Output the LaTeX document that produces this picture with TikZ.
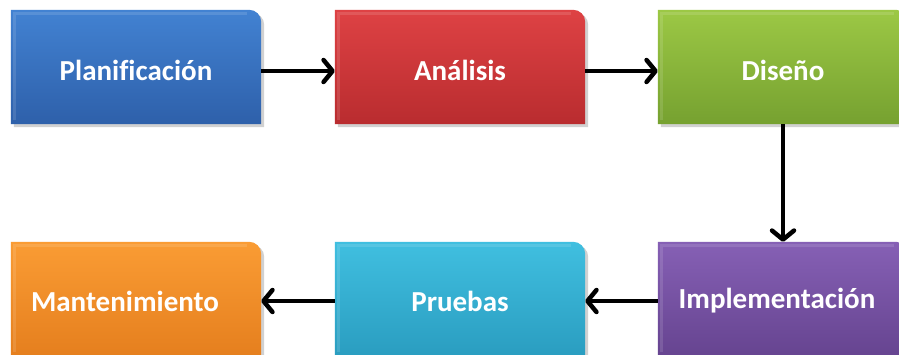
\documentclass[tikz,border=0pt]{standalone}
\usepackage{fontspec}
\setmainfont[Ligatures=NoCommon]{Carlito}
\usetikzlibrary{arrows.meta}
\tikzset{
  stage/.style={minimum width=250pt, minimum height=114pt, inner sep=0pt,
    font=\fontsize{29}{34}\selectfont\bfseries, text=white},
  flow/.style={line width=4.5pt, -{Straight Barb[length=9pt,width=22pt,line cap=round,line join=round]}}
}
\definecolor{blueT}{HTML}{4282D2}\definecolor{blueB}{HTML}{2E60AA}
\definecolor{redT}{HTML}{DE4244}\definecolor{redB}{HTML}{B92C2F}
\definecolor{greenT}{HTML}{9CC845}\definecolor{greenB}{HTML}{76A130}
\definecolor{purpleT}{HTML}{8660B5}\definecolor{purpleB}{HTML}{664490}
\definecolor{cyanT}{HTML}{40BFE0}\definecolor{cyanB}{HTML}{2A9DC0}
\definecolor{orangeT}{HTML}{FA9C34}\definecolor{orangeB}{HTML}{E57F1E}
% box with only the top-right corner rounded
\newcommand{\stagebox}[3]{%
  \fill[black,opacity=0.18] ([shift={(3pt,-3pt)}]#1.south west) -- ([shift={(3pt,-3pt)}]#1.north west)
    -- ([shift={(-9pt,-3pt)}]#1.north east) arc[start angle=90,end angle=0,radius=12pt]
    -- ([shift={(3pt,-3pt)}]#1.south east) -- cycle;
  \shade[top color=#2, bottom color=#3] (#1.south west) -- (#1.north west)
    -- ([xshift=-12pt]#1.north east) arc[start angle=90,end angle=0,radius=12pt]
    -- (#1.south east) -- cycle;
  \draw[white,opacity=0.12,line width=3pt] ([shift={(4pt,4pt)}]#1.south west) -- ([shift={(4pt,-4pt)}]#1.north west)
    -- ([shift={(-14pt,-4pt)}]#1.north east);
}
\begin{document}
\begin{tikzpicture}[x=1pt,y=1pt]
\useasboundingbox (0,0) rectangle (899,-354);
\clip (0,0) rectangle (899,-354);
\fill[white] (0,0) rectangle (899,-354);
\path
  (136,-67) coordinate (plan)
  (460,-67) coordinate (anal)
  (783,-67) coordinate (dise)
  (783,-299) coordinate (impl)
  (460,-299) coordinate (prue)
  (136,-299) coordinate (mant);
\node[stage] (n1) at (plan) {};
\node[stage] (n2) at (anal) {};
\node[stage] (n3) at (dise) {};
\node[stage] (n4) at (impl) {};
\node[stage] (n5) at (prue) {};
\node[stage] (n6) at (mant) {};
\stagebox{n1}{blueT}{blueB}
\stagebox{n2}{redT}{redB}
\stagebox{n3}{greenT}{greenB}
\stagebox{n4}{purpleT}{purpleB}
\stagebox{n5}{cyanT}{cyanB}
\stagebox{n6}{orangeT}{orangeB}
\node[stage] at ([yshift=-3pt]n1.center) {Planificación};
\node[stage] at ([yshift=-3pt]n2.center) {Análisis};
\node[stage] at ([yshift=-3pt]n3.center) {Diseño};
\node[stage] at ([shift={(-6pt,-2pt)}]n4.center) {Implementación};
\node[stage] at ([yshift=-2pt]n5.center) {Pruebas};
\node[stage] at ([shift={(-11pt,-2pt)}]n6.center) {Mantenimiento};
\draw[flow] ([yshift=-4pt]n1.east) -- ([yshift=-4pt]n2.west);
\draw[flow] ([yshift=-4pt]n2.east) -- ([yshift=-4pt]n3.west);
\draw[flow] (n3.south) -- (n4.north);
\draw[flow] ([yshift=-2pt]n4.west) -- ([yshift=-2pt]n5.east);
\draw[flow] ([yshift=-2pt]n5.west) -- ([yshift=-2pt]n6.east);
\end{tikzpicture}
\end{document}
